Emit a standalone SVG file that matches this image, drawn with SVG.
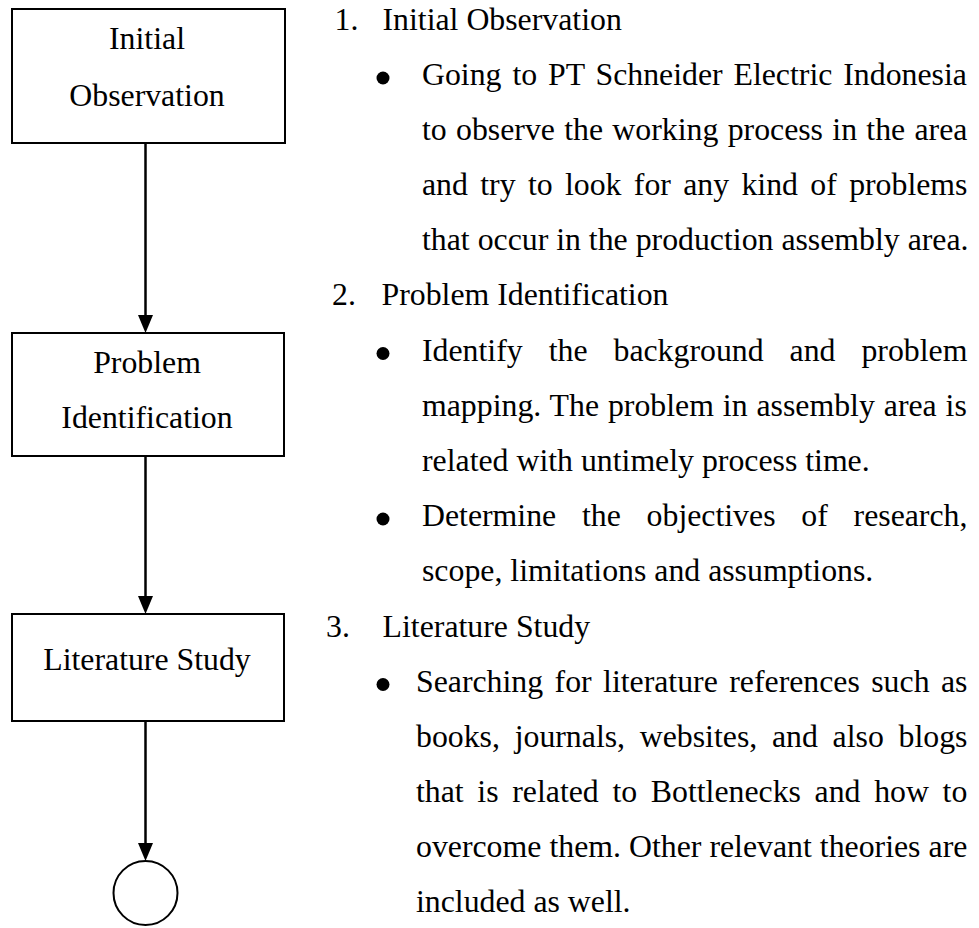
<svg xmlns="http://www.w3.org/2000/svg" width="979" height="928" viewBox="0 0 979 928">
  <style>
    .box { fill: #fff; stroke: #000; stroke-width: 2; }
    .end { fill: #fff; stroke: #000; stroke-width: 2; }
    .t { font-family: "Liberation Serif", "Times New Roman", serif; font-size: 31.8px; fill: #000; }
    .c { text-anchor: middle; }
    .conn { stroke: #000; stroke-width: 2.5; fill: none; }
    .dot { fill: #000; }
  </style>
  <defs>
    <marker id="arrow" markerUnits="userSpaceOnUse" markerWidth="18" markerHeight="16" refX="8" refY="7.5" orient="auto">
      <path d="M0,0 L18,7.5 L0,15 Z" fill="#000"/>
    </marker>
  </defs>
  <rect width="979" height="928" fill="#fff"/>

  <!-- flow connectors -->
  <g id="connectors">
    <line class="conn" x1="145.5" y1="143" x2="145.5" y2="323" marker-end="url(#arrow)"/>
    <line class="conn" x1="145.5" y1="456" x2="145.5" y2="604" marker-end="url(#arrow)"/>
    <line class="conn" x1="145.5" y1="721" x2="145.5" y2="851" marker-end="url(#arrow)"/>
  </g>

  <!-- flow nodes -->
  <g id="node-initial-observation">
    <rect class="box" x="12" y="9" width="273" height="134"/>
    <text class="t c" x="147" y="49">Initial</text>
    <text class="t c" x="147" y="106">Observation</text>
  </g>
  <g id="node-problem-identification">
    <rect class="box" x="12" y="333" width="272" height="123"/>
    <text class="t c" x="147" y="373">Problem</text>
    <text class="t c" x="147" y="428">Identification</text>
  </g>
  <g id="node-literature-study">
    <rect class="box" x="12" y="614" width="272" height="107"/>
    <text class="t c" x="147" y="670">Literature Study</text>
  </g>
  <g id="node-connector-circle">
    <circle class="end" cx="145.5" cy="893" r="32"/>
  </g>

  <!-- step descriptions -->
  <g id="descriptions">
    <text class="t" x="334.5" y="30">1.</text>
    <text class="t" x="382.5" y="30">Initial Observation</text>
    <circle class="dot" cx="383" cy="78" r="6.5"/>
    <text class="t" x="422" y="85" style="word-spacing:2.95px">Going to PT Schneider Electric Indonesia</text>
    <text class="t" x="422" y="140" style="word-spacing:1.35px">to observe the working process in the area</text>
    <text class="t" x="422" y="195" style="word-spacing:4.38px">and try to look for any kind of problems</text>
    <text class="t" x="422" y="250">that occur in the production assembly area.</text>

    <text class="t" x="332" y="305">2.</text>
    <text class="t" x="381.5" y="305">Problem Identification</text>
    <circle class="dot" cx="383" cy="353.5" r="6.5"/>
    <text class="t" x="422" y="360.5" style="word-spacing:18.04px">Identify the background and problem</text>
    <text class="t" x="422" y="415.5" style="word-spacing:0.98px">mapping. The problem in assembly area is</text>
    <text class="t" x="422" y="470.5">related with untimely process time.</text>
    <circle class="dot" cx="383" cy="519" r="6.5"/>
    <text class="t" x="422" y="526" style="word-spacing:17.83px">Determine the objectives of research,</text>
    <text class="t" x="422" y="581">scope, limitations and assumptions.</text>

    <text class="t" x="326" y="637">3.</text>
    <text class="t" x="382.6" y="637">Literature Study</text>
    <circle class="dot" cx="383" cy="684.5" r="6.5"/>
    <text class="t" x="416" y="691.5" style="word-spacing:3.47px">Searching for literature references such as</text>
    <text class="t" x="416" y="746.5" style="word-spacing:6.78px">books, journals, websites, and also blogs</text>
    <text class="t" x="416" y="801.5" style="word-spacing:5.72px">that is related to Bottlenecks and how to</text>
    <text class="t" x="416" y="856.5" style="word-spacing:0.09px">overcome them. Other relevant theories are</text>
    <text class="t" x="416" y="911.5">included as well.</text>
  </g>
</svg>
